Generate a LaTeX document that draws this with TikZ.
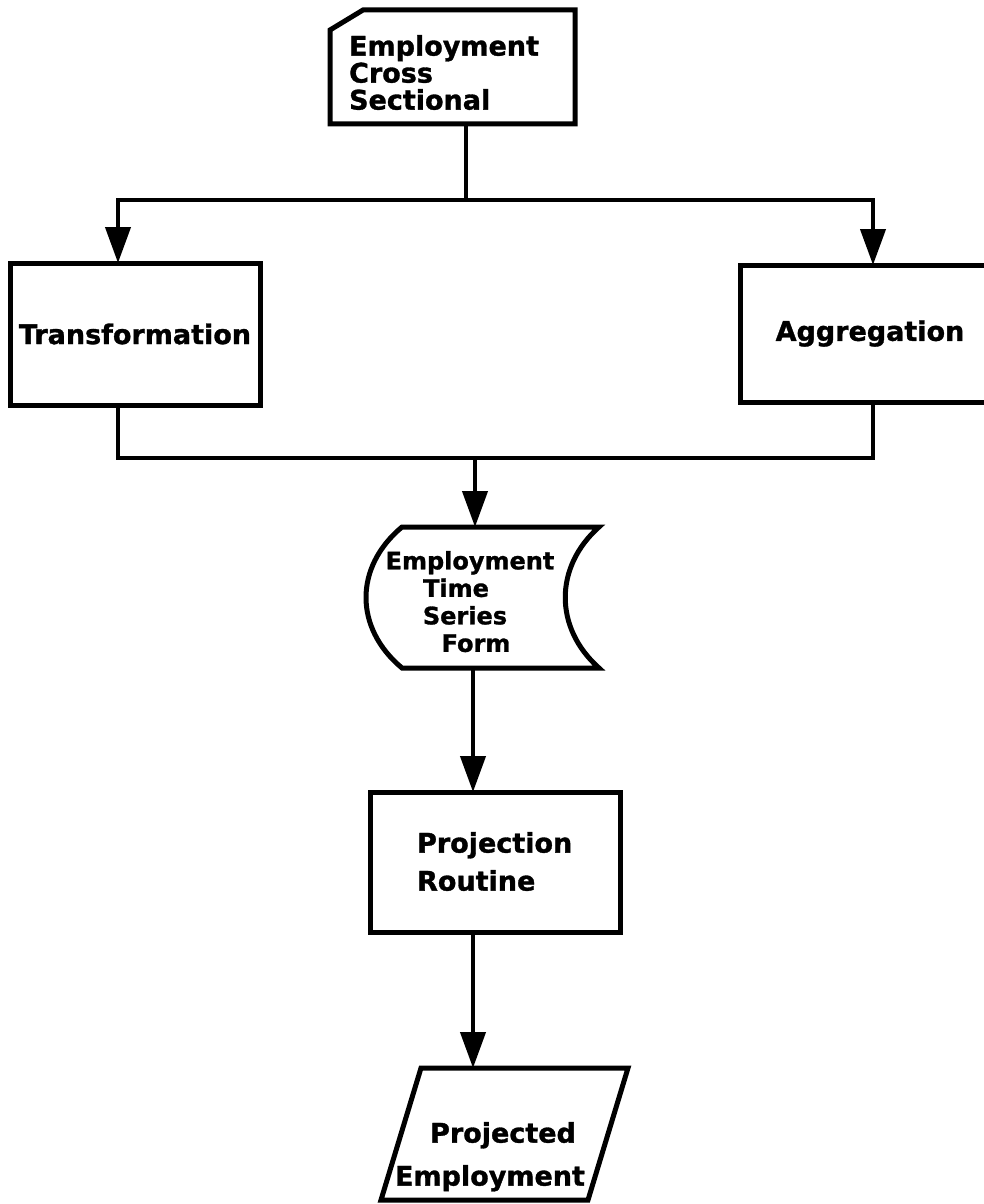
\documentclass[tikz,border=0pt]{standalone}
\usepackage{fontspec}
\setmainfont{DejaVu Sans}[BoldFeatures={FakeBold=1.2}]
\usetikzlibrary{arrows.meta}
\begin{document}
\begin{tikzpicture}[x=1pt,y=-1pt,line width=4.2pt,line join=miter,
  lbl/.style={font=\bfseries\fontsize{27}{27}\selectfont, inner sep=0pt},
  outline/.style={line width=5pt},
  frame/.style={draw=none, rectangle, inner sep=0pt, outer sep=0pt},
  procbox/.style={draw, outline, rectangle, inner sep=0pt, outer sep=0pt, lbl},
  flow/.style={-{Triangle[length=36pt,width=25pt]}},
]
\useasboundingbox (0,0) rectangle (983,1204);

% input card with the clipped corner
\node[frame, minimum width=245pt, minimum height=114pt] (card) at (452.5,67) {};
\draw[outline] ([xshift=33pt]card.north west) -- (card.north east) -- (card.south east)
  -- (card.south west) -- ([yshift=-20pt]card.north west) -- cycle;
\node[lbl, align=left, anchor=north west] (cardtxt) at (347,33) {Employment\\Cross\\Sectional};

% the two processing boxes
\node[procbox, minimum width=250pt, minimum height=142pt] (trans) at (135,334) {Transformation};
\node[procbox, minimum width=260pt, minimum height=137pt] (aggr) at (870,333.5) {Aggregation};

% stored data (tape form)
\node[frame, minimum width=197pt, minimum height=141pt] (tape) at (500.5,597.5) {};
\draw[outline] (tape.north west) -- (tape.north east)
  .. controls ([xshift=-45pt,yshift=-40pt]tape.north east) and ([xshift=-45pt,yshift=40pt]tape.south east) .. (tape.south east)
  -- (tape.south west)
  .. controls ([xshift=-48pt,yshift=40pt]tape.south west) and ([xshift=-48pt,yshift=-40pt]tape.north west) .. (tape.north west) -- cycle;
\node[lbl, font=\bfseries\fontsize{24}{27.5}\selectfont, align=center, anchor=north] (tapetxt) at (470,549)
  {Employment\\\hspace*{-28pt}Time\\\hspace*{-10pt}Series\\\hspace*{12pt}Form};

% projection routine
\node[frame, draw, outline, minimum width=250pt, minimum height=140pt] (proc) at (495,862) {};
\node[lbl, align=left, anchor=north west] (proctxt) at (415,830) {Projection\\[11pt]Routine};

% output (parallelogram)
\node[frame, minimum width=207pt, minimum height=132pt] (out) at (504.5,1134) {};
\draw[outline] ([xshift=20pt]out.north west) -- ([xshift=20pt]out.north east)
  -- ([xshift=-20pt]out.south east) -- ([xshift=-20pt]out.south west) -- cycle;
\node[lbl, align=center, anchor=north] (outtxt) at (490,1120) {\hspace*{26pt}Projected\\[16pt]Employment};

% connectors
\coordinate (split) at (466,200);
\coordinate (merge) at (475,458);
\coordinate (ta) at ([xshift=-17pt]trans.north);
\coordinate (tb) at ([xshift=-17pt]trans.south);
\coordinate (aa) at ([xshift=3pt]aggr.north);
\coordinate (ab) at ([xshift=3pt]aggr.south);
\coordinate (cs) at ([xshift=13.5pt]card.south);
\coordinate (ts) at ([xshift=-27.5pt]tape.south);
\coordinate (ps) at ([xshift=-22pt]proc.south);

\draw (cs) -- (split);
\draw[flow] (split) -| (ta);
\draw[flow] (split) -| (aa);
\draw (tb) |- (merge);
\draw (ab) |- (merge);
\draw[flow] (merge) -- (merge |- tape.north);
\draw[flow] (ts) -- (ts |- proc.north);
\draw[flow] (ps) -- (ps |- out.north);
\end{tikzpicture}
\end{document}
